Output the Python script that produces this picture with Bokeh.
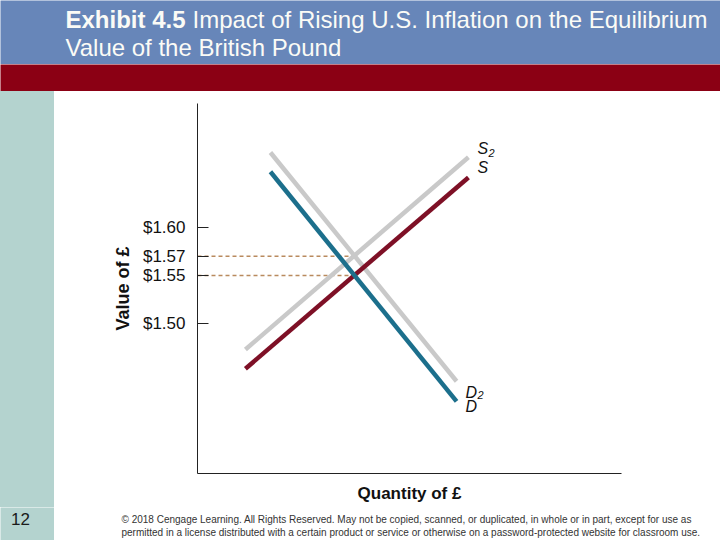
from bokeh.plotting import figure
from bokeh.layouts import row, column
from bokeh.models import Label, FixedTicker, NumeralTickFormatter, Spacer
from bokeh.embed import file_html
from bokeh.resources import INLINE

# ---------------- data ----------------
title_bold = "Exhibit 4.5"
title_rest = "Impact of Rising U.S. Inflation on the Equilibrium"
title_line2 = "Value of the British Pound"
slide_number = "12"
copyright_1 = ("\u00a9 2018 Cengage Learning. All Rights Reserved. May not be copied, scanned, or duplicated, "
               "in whole or in part, except for use as")
copyright_2 = ("permitted in a license distributed with a certain product or service or otherwise on a "
               "password-protected website for classroom use.")

x_label = "Quantity of \u00a3"
y_label = "Value of \u00a3"
y_ticks = [1.50, 1.55, 1.57, 1.60]

demand_q = [17.2, 61.1]
demand_v = [1.658, 1.419]
demand2_q = [17.2, 61.1]
demand2_v = [1.678, 1.440]
supply_q = [11.3, 63.9]
supply_v = [1.453, 1.652]
supply2_q = [11.3, 63.9]
supply2_v = [1.473, 1.673]
eq_values = [1.55, 1.57]

# ---------------- styles ----------------
BLUE_BAND = "#6786b9"
RED_BAND = "#8b0014"
TEAL = "#b4d3cf"
C_D = "#1c6f8c"
C_S = "#7e1026"
C_GRAY = "#c9c9c9"
C_DASH = "#b98a5e"
SANS = "Liberation Sans"


def deco(w, h, color):
    f = figure(width=w, height=h, x_range=(0, w), y_range=(0, h), title=None,
               toolbar_location=None, output_backend="svg", min_border=0,
               x_axis_type=None, y_axis_type=None)
    f.outline_line_color = None
    f.background_fill_color = color
    f.border_fill_color = color
    return f


def intersect(q1, v1, q2, v2):
    m1 = (v1[1] - v1[0]) / (q1[1] - q1[0])
    m2 = (v2[1] - v2[0]) / (q2[1] - q2[0])
    b1 = v1[0] - m1 * q1[0]
    b2 = v2[0] - m2 * q2[0]
    return (b2 - b1) / (m1 - m2)


# header
header = deco(720, 64, BLUE_BAND)
header.add_layout(Label(x=65, y=45, text=title_bold, text_font=SANS,
                        text_font_size="24px", text_font_style="bold",
                        text_color="#fbfbf6", text_baseline="middle"))
header.add_layout(Label(x=192, y=45, text=title_rest, text_font=SANS,
                        text_font_size="24px", text_color="#fbfbf6",
                        text_baseline="middle"))
header.add_layout(Label(x=65, y=17, text=title_line2, text_font=SANS,
                        text_font_size="24px", text_color="#fbfbf6",
                        text_baseline="middle"))

band = deco(720, 27, RED_BAND)

# sidebar pieces
side_top = Spacer(width=54, height=416, styles={"background-color": TEAL})
side_bot = deco(54, 33, TEAL)
side_bot.add_layout(Label(x=20, y=22, text=slide_number, text_font=SANS,
                          text_font_size="17px", text_color="#1a1a1a",
                          text_align="center", text_baseline="middle"))

# main chart
p = figure(width=666, height=416, x_range=(0, 100), y_range=(1.344, 1.729),
           title=None, toolbar_location=None, output_backend="svg",
           min_border_left=143, min_border_right=99, min_border_top=12,
           min_border_bottom=34)
p.outline_line_color = None
p.grid.visible = False
p.background_fill_color = "white"
p.border_fill_color = "white"

p.yaxis.ticker = FixedTicker(ticks=y_ticks, minor_ticks=[])
p.yaxis.formatter = NumeralTickFormatter(format="$0.00")
p.yaxis.major_tick_in = 11
p.yaxis.major_tick_out = 0
p.yaxis.minor_tick_line_color = None
p.yaxis.major_tick_line_color = "#222222"
p.yaxis.axis_line_color = "#222222"
p.yaxis.major_label_standoff = 12
p.yaxis.major_label_text_font = SANS
p.yaxis.major_label_text_font_size = "17px"
p.yaxis.major_label_text_color = "#111111"
p.yaxis.axis_label = y_label
p.yaxis.axis_label_text_font = SANS
p.yaxis.axis_label_text_font_style = "bold"
p.yaxis.axis_label_text_font_size = "18px"
p.yaxis.axis_label_text_color = "#111111"
p.yaxis.axis_label_standoff = 7

p.xaxis.ticker = FixedTicker(ticks=[], minor_ticks=[])
p.xaxis.major_tick_in = 0
p.xaxis.major_tick_out = 0
p.xaxis.minor_tick_line_color = None
p.xaxis.major_label_standoff = 0
p.xaxis.axis_line_color = "#222222"
p.xaxis.axis_label = x_label
p.xaxis.axis_label_text_font = SANS
p.xaxis.axis_label_text_font_style = "bold"
p.xaxis.axis_label_text_font_size = "17px"
p.xaxis.axis_label_text_color = "#111111"
p.xaxis.axis_label_standoff = 10

# dashed guides from the axis to each equilibrium
q_eq1 = intersect(demand_q, demand_v, supply_q, supply_v)
q_eq2 = intersect(demand2_q, demand2_v, supply2_q, supply2_v)
p.segment(x0=[0, 0], y0=eq_values, x1=[q_eq1, q_eq2], y1=eq_values,
          line_color=C_DASH, line_width=1.5, line_dash="4 3")

p.line(supply2_q, supply2_v, line_color=C_GRAY, line_width=4.5)
p.line(demand2_q, demand2_v, line_color=C_GRAY, line_width=4.5)
p.line(supply_q, supply_v, line_color=C_S, line_width=4.5)
p.line(demand_q, demand_v, line_color=C_D, line_width=4.5)


def curve_label(x, y, txt, dx, dy, size="16px"):
    p.add_layout(Label(x=x, y=y, text=txt, x_offset=dx, y_offset=dy,
                       text_font=SANS, text_font_style="italic",
                       text_font_size=size, text_color="#111111",
                       text_baseline="middle"))


curve_label(supply2_q[1], supply2_v[1], "S", 9, 9)
curve_label(supply2_q[1], supply2_v[1], "2", 20, 4, "11px")
curve_label(supply_q[1], supply_v[1], "S", 9, 10)
curve_label(demand2_q[1], demand2_v[1], "D", 9, -11)
curve_label(demand2_q[1], demand2_v[1], "2", 21, -14, "11px")
curve_label(demand_q[1], demand_v[1], "D", 9, -5)

# footer
foot = deco(666, 33, "white")
foot.add_layout(Label(x=67, y=21, text=copyright_1, text_font=SANS,
                      text_font_size="10px", text_color="#333333", text_baseline="middle"))
foot.add_layout(Label(x=67, y=8, text=copyright_2, text_font=SANS,
                      text_font_size="10px", text_color="#333333", text_baseline="middle"))

layout = column(header, band, row(side_top, p), row(side_bot, foot))

open("out.html", "w").write(file_html(layout, INLINE))
